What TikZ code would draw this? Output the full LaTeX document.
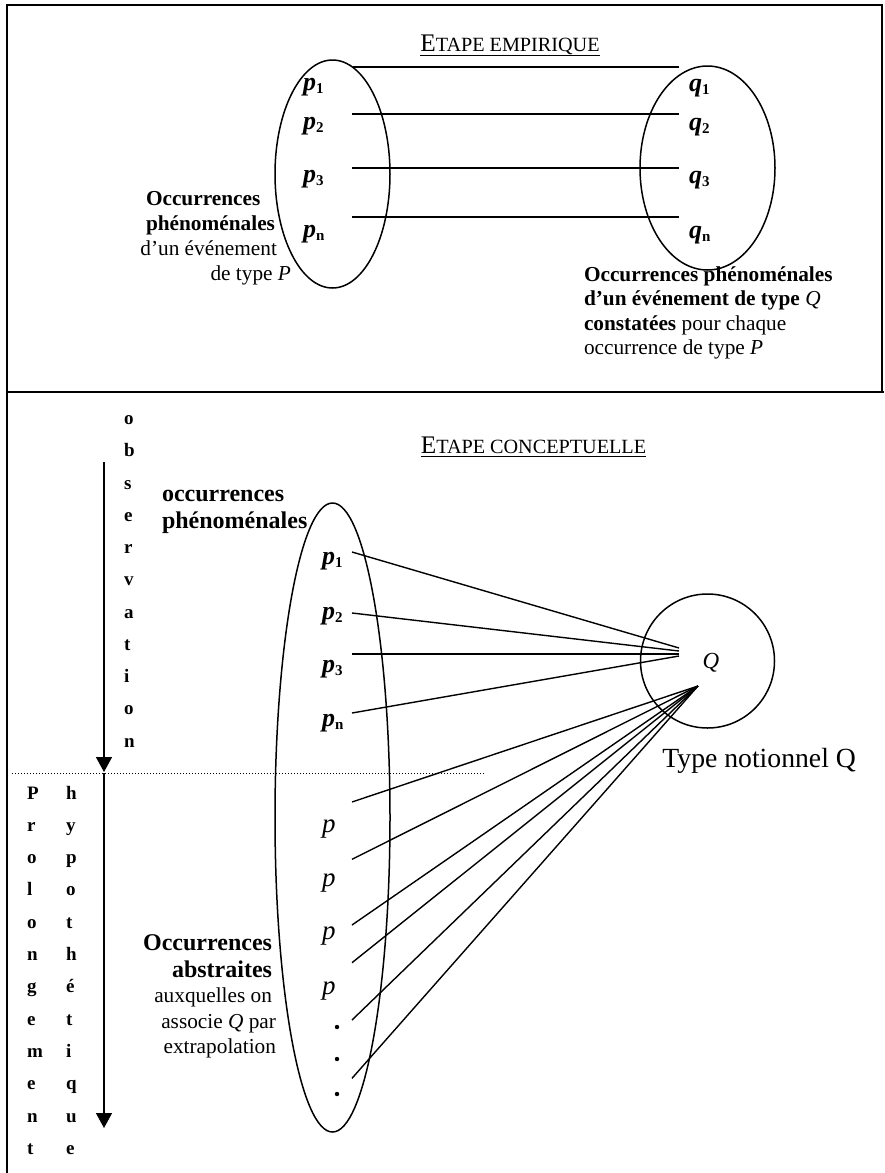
\documentclass[tikz,border=0pt]{standalone}
\usepackage{fontspec}
\setmainfont{Liberation Serif}
\usetikzlibrary{arrows.meta,shapes.geometric}
\newcommand\fsz[1]{\fontsize{#1}{#1}\selectfont}
\newcommand\subidx[1]{\raisebox{-1.5pt}{\fsz{7.5}\bfseries\upshape #1}}
\newcommand\smc[1]{{\fsz{10.1}#1}}
\begin{document}
\begin{tikzpicture}[x=0.5pt,y=-0.5pt,
  txt/.style={inner sep=0pt,outer sep=0pt,font=\fsz{10.65}},
  bigtxt/.style={inner sep=0pt,outer sep=0pt,font=\fsz{12}},
  ttl/.style={inner sep=0pt,outer sep=0pt,font=\fsz{12.65}},
  plbl/.style={inner sep=0pt,outer sep=0pt,font=\fsz{13}\bfseries\itshape},
  plain/.style={inner sep=0pt,outer sep=0pt,font=\fsz{13.5}\itshape},
  vl/.style={inner sep=0pt,outer sep=0pt,font=\fsz{9.5}\bfseries},
  conn/.style={line width=0.7pt},
  shp/.style={draw,line width=0.75pt,inner sep=0pt,outer sep=0pt},
  frm/.style={line width=1pt},
  vecarrow/.style={line width=0.75pt,-{Triangle[length=7.5pt,width=8pt]}},
  dotn/.style={circle,fill,inner sep=0pt,minimum size=2.2pt},
  dotline/.style={line width=0.5pt,dash pattern=on 0.5pt off 1pt}]
\useasboundingbox (0,0) rectangle (884,1173);
% frame
\draw[frm] (7,1173) -- (7,5) -- (882,5) -- (882,392);
\draw[frm] (7,392) -- (884,392);

% ===== top: empirical stage =====
\node[ttl,anchor=base] (t1) at (510,51) {E\smc{TAPE EMPIRIQUE}};
\draw[line width=0.5pt] ([yshift=-2pt]t1.base west) -- ([yshift=-2pt]t1.base east);

\node[shp,ellipse,minimum width=57.5pt,minimum height=114pt] (E1) at (332.5,174) {};
\node[shp,ellipse,minimum width=67.5pt,minimum height=102pt] (E2) at (707.5,168) {};

\node[plbl,anchor=base west] (p1) at (303,90) {p\subidx{1}};
\node[plbl,anchor=base west] (p2) at (303,129) {p\subidx{2}};
\node[plbl,anchor=base west] (p3) at (303,182) {p\subidx{3}};
\node[plbl,anchor=base west] (pn) at (303,237) {p\subidx{n}};
\node[plbl,anchor=base west] (q1) at (689,91) {q\subidx{1}};
\node[plbl,anchor=base west] (q2) at (689,130) {q\subidx{2}};
\node[plbl,anchor=base west] (q3) at (689,183) {q\subidx{3}};
\node[plbl,anchor=base west] (qn) at (689,238) {q\subidx{n}};

\coordinate (h1a) at (353,67);  \coordinate (h1b) at (679,67);
\coordinate (h2a) at (352,114); \coordinate (h2b) at (679,114);
\coordinate (h3a) at (352,168); \coordinate (h3b) at (679,168);
\coordinate (h4a) at (352,217); \coordinate (h4b) at (679,217);
\draw[conn] (h1a) -- (h1b);
\draw[conn] (h2a) -- (h2b);
\draw[conn] (h3a) -- (h3b);
\draw[conn] (h4a) -- (h4b);

\node[txt,anchor=base west] (tl1) at (146,205) {\bfseries Occurrences};
\node[txt,anchor=base west] (tl2) at (146,230) {\bfseries phénoménales};
\node[txt,anchor=base east] (tl3) at (277,255) {d’un événement};
\node[txt,anchor=base east] (tl4) at (291,280) {de type \textit{P}};

\node[txt,anchor=base west] (tr1) at (584,281) {\bfseries Occurrences phénoménales};
\node[txt,anchor=base west] (tr2) at (584,305.5) {\bfseries d’un événement de type \mdseries\itshape Q};
\node[txt,anchor=base west] (tr3) at (584,330) {\textbf{constatées} pour chaque};
\node[txt,anchor=base west] (tr4) at (584,354.5) {occurrence de type \textit{P}};

% ===== bottom: conceptual stage =====
\node[ttl,anchor=base] (t2) at (533.5,453) {E\smc{TAPE CONCEPTUELLE}};
\draw[line width=0.5pt] ([yshift=-1.6pt]t2.base west) -- ([yshift=-1.6pt]t2.base east);

% vertical words
\foreach \c [count=\i from 0] in {o,b,s,e,r,v,a,t,i,o,n}
  \node[vl,anchor=base west] (obs\i) at (124,424.5+32.27*\i) {\c};
\foreach \c [count=\i from 0] in {P,r,o,l,o,n,g,e,m,e,n,t}
  \node[vl,anchor=base west] (pro\i) at (27,799+32.3*\i) {\c};
\foreach \c [count=\i from 0] in {h,y,p,o,t,h,é,t,i,q,u,e}
  \node[vl,anchor=base west] (hyp\i) at (66,799+32.3*\i) {\c};

\coordinate (a1s) at (104,462);  \coordinate (a1e) at (104,772);
\coordinate (a2s) at (104,773);  \coordinate (a2e) at (104,1128);
\draw[vecarrow] (a1s) -- (a1e);
\draw[vecarrow] (a2s) -- (a2e);

\coordinate (dl1) at (12,773); \coordinate (dl2) at (485,773);
\draw[dotline] (dl1) -- (dl2);

\node[shp,ellipse,minimum width=57.5pt,minimum height=314.5pt] (E3) at (332.5,817.5) {};
\node[shp,circle,minimum size=67pt] (C) at (707.5,661) {};
\node[inner sep=0pt,font=\fsz{11.5}\itshape] (Q) at (711,663) {Q};
\node[inner sep=0pt,anchor=base west,font=\fsz{13.85}] (TQ) at (662,767) {Type notionnel Q};

\node[bigtxt,anchor=base west] (op1) at (162,501) {\bfseries occurrences};
\node[bigtxt,anchor=base west] (op2) at (162,528) {\bfseries phénoménales};

\node[plbl,anchor=base west] (bp1) at (322,564) {p\subidx{1}};
\node[plbl,anchor=base west] (bp2) at (322,619) {p\subidx{2}};
\node[plbl,anchor=base west] (bp3) at (322,672) {p\subidx{3}};
\node[plbl,anchor=base west] (bpn) at (322,726) {p\subidx{n}};

\node[plain,anchor=base west] (ap1) at (322,832) {p};
\node[plain,anchor=base west] (ap2) at (322,886) {p};
\node[plain,anchor=base west] (ap3) at (322,939) {p};
\node[plain,anchor=base west] (ap4) at (322,994) {p};
\node[dotn] (dt1) at (337,1027) {};
\node[dotn] (dt2) at (337,1059) {};
\node[dotn] (dt3) at (337,1094) {};

\node[bigtxt,anchor=base east] (oa1) at (272,950) {\bfseries Occurrences};
\node[bigtxt,anchor=base east] (oa2) at (272,977) {\bfseries abstraites};
\node[txt,anchor=base east] (oa3) at (272,1002) {auxquelles on};
\node[txt,anchor=base east] (oa4) at (276,1028) {associe \textit{Q} par};
\node[txt,anchor=base east] (oa5) at (276,1053) {extrapolation};

% connectors to Q
\coordinate (u1) at (352,552);   \coordinate (v1) at (679,648);
\coordinate (u2) at (352,613);   \coordinate (v2) at (679,651);
\coordinate (u3) at (352,654);   \coordinate (v3) at (679,654);
\coordinate (u4) at (352,713);   \coordinate (v4) at (679,656);
\draw[conn] (u1) -- (v1);
\draw[conn] (u2) -- (v2);
\draw[conn] (u3) -- (v3);
\draw[conn] (u4) -- (v4);
\coordinate (w) at (698,686);
\foreach \yy [count=\k] in {802,859.3,925,962.7,1020,1078.3}{
  \coordinate (s\k) at (352,\yy);
  \draw[conn] (s\k) -- (w);
}
\end{tikzpicture}
\end{document}
